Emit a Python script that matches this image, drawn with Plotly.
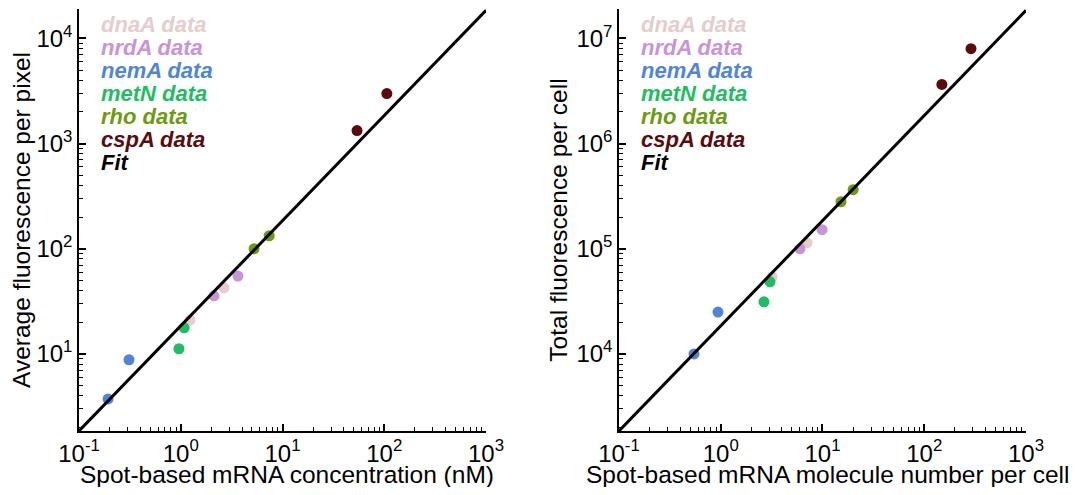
import plotly.graph_objects as go

genes = ["dnaA", "nrdA", "nemA", "metN", "rho", "cspA"]
colors = ["#e6cccb", "#c993d7", "#5085d6", "#20bd62", "#6d9a10", "#5a0b0e"]

# Left panel: spot-based mRNA concentration (nM) vs average fluorescence per pixel
conc_x = {
    "dnaA": [1.23, 2.66],
    "nrdA": [2.12, 3.65],
    "nemA": [0.193, 0.31],
    "metN": [0.96, 1.08],
    "rho": [5.25, 7.4],
    "cspA": [54, 106],
}
conc_y = {
    "dnaA": [21, 42.5],
    "nrdA": [35.7, 55],
    "nemA": [3.73, 8.8],
    "metN": [11.2, 17.7],
    "rho": [100, 133],
    "cspA": [1330, 2990],
}

# Right panel: spot-based mRNA molecule number per cell vs total fluorescence per cell
num_x = {
    "dnaA": [3.19, 7.05],
    "nrdA": [6.0, 9.9],
    "nemA": [0.546, 0.94],
    "metN": [2.66, 3.05],
    "rho": [15.2, 20],
    "cspA": [149, 288],
}
num_y = {
    "dnaA": [5.4e4, 1.14e5],
    "nrdA": [1.0e5, 1.52e5],
    "nemA": [1.0e4, 2.5e4],
    "metN": [3.13e4, 4.85e4],
    "rho": [2.8e5, 3.65e5],
    "cspA": [3.65e6, 8.0e6],
}

fit_x = [0.1, 1000]
fit_slope_left = 18.5
fit_slope_right = 18500

x_exps = [-1, 0, 1, 2, 3]
y_exps_left = [1, 2, 3, 4]
y_exps_right = [4, 5, 6, 7]

fig = go.Figure()

for g, c in zip(genes, colors):
    fig.add_trace(go.Scatter(x=conc_x[g], y=conc_y[g], mode="markers",
                             marker=dict(color=c, size=11), xaxis="x", yaxis="y",
                             showlegend=False))
    fig.add_trace(go.Scatter(x=num_x[g], y=num_y[g], mode="markers",
                             marker=dict(color=c, size=11), xaxis="x2", yaxis="y2",
                             showlegend=False))

fig.add_trace(go.Scatter(x=fit_x, y=[fit_slope_left * v for v in fit_x], mode="lines",
                         line=dict(color="black", width=3), xaxis="x", yaxis="y",
                         showlegend=False))
fig.add_trace(go.Scatter(x=fit_x, y=[fit_slope_right * v for v in fit_x], mode="lines",
                         line=dict(color="black", width=3), xaxis="x2", yaxis="y2",
                         showlegend=False))

font = "Liberation Sans, Arial, sans-serif"
title_size = 24.5

def pw(e):
    return "10<sup>%d</sup>" % e

def common(exps):
    return dict(type="log", tickmode="array",
                tickvals=[10 ** e for e in exps], ticktext=[pw(e) for e in exps],
                ticks="inside", ticklen=7, tickwidth=1.5, tickcolor="black",
                showline=True, linecolor="black", linewidth=1.5,
                showgrid=False, zeroline=False, automargin=False,
                minor=dict(ticks="inside", ticklen=4, tickcolor="black", tickwidth=1,
                           tickmode="array",
                           tickvals=[m * 10 ** e for e in range(-1, 8) for m in range(2, 10)],
                           showgrid=False),
                tickfont=dict(family=font, size=24, color="black"))

def xaxis(domain, anchor):
    d = common(x_exps)
    d.update(domain=domain, range=[-1, 3], anchor=anchor)
    return d

def yaxis(rng, exps, title, anchor):
    d = common(exps)
    d.update(domain=[0, 1], range=rng, anchor=anchor,
             title=dict(text=title, font=dict(family=font, size=title_size, color="black"), standoff=2))
    return d

labels = [g + " data" for g in genes] + ["Fit"]
label_colors = colors + ["black"]
annotations = []
for i, (t, c) in enumerate(zip(labels, label_colors)):
    for xr, yr in (("x domain", "y domain"), ("x2 domain", "y2 domain")):
        annotations.append(dict(text="<b><i>%s</i></b>" % t, x=0.05, y=0.964 - i * 0.0545,
                                xref=xr, yref=yr, xanchor="left", yanchor="middle",
                                showarrow=False,
                                font=dict(family=font, size=22, color=c)))

x_titles = [("x domain", "y domain", 0.51, "Spot-based mRNA concentration (nM)"),
            ("x2 domain", "y2 domain", 0.513, "Spot-based mRNA molecule number per cell")]
for xr, yr, xc, t in x_titles:
    annotations.append(dict(text=t, x=xc, y=-0.103, xref=xr, yref=yr,
                            xanchor="center", yanchor="middle", showarrow=False,
                            font=dict(family=font, size=title_size, color="black")))

fig.update_layout(
    width=1064, height=479,
    margin=dict(l=71, r=46, t=1, b=56),
    paper_bgcolor="white", plot_bgcolor="white",
    xaxis=xaxis([0, 0.4298], "y"),
    yaxis=yaxis([0.267, 4.28], y_exps_left, "Average fluorescence per pixel", "x"),
    xaxis2=xaxis([0.5702, 1], "y2"),
    yaxis2=yaxis([3.267, 7.28], y_exps_right, "Total fluorescence per cell", "x2"),
    annotations=annotations,
)

fig.write_html("out.html")
